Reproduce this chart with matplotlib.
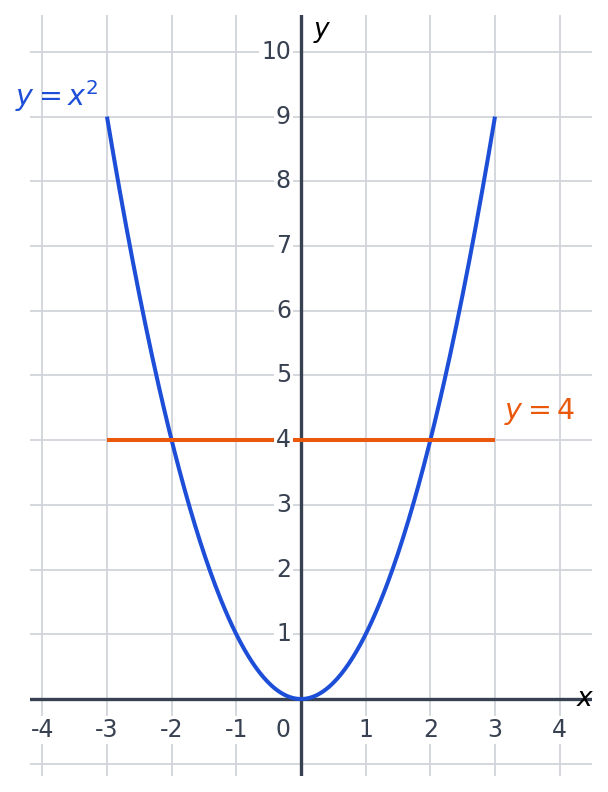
import numpy as np
import matplotlib
matplotlib.use("Agg")
import matplotlib.pyplot as plt
from matplotlib.transforms import offset_copy

# data
x_ticks = [-4, -3, -2, -1, 0, 1, 2, 3, 4]
y_ticks = [1, 2, 3, 4, 5, 6, 7, 8, 9, 10]
grid_y = [-1, 0, 1, 2, 3, 4, 5, 6, 7, 8, 9, 10]
curve_x = np.linspace(-3, 3, 301)
curve_y = curve_x ** 2
line_x = [-3, 3]
line_y = [4, 4]

BLUE = "#1d4ed8"
ORANGE = "#ea580c"
AXIS = "#374151"
GRID = "#d1d5db"

fig = plt.figure(figsize=(6.08, 7.92), dpi=100)
ax = fig.add_axes([30 / 608, 16 / 792, 562 / 608, 761 / 792])
ax.set_xlim(-4.19, 4.50)
ax.set_ylim(-1.19, 10.57)
ax.set_axis_off()

for gx in x_ticks:
    ax.axvline(gx, color=GRID, lw=1.3, zorder=1)
for gy in grid_y:
    ax.axhline(gy, color=GRID, lw=1.3, zorder=1)

ax.axhline(0, color=AXIS, lw=2.4, zorder=2)
ax.axvline(0, color=AXIS, lw=2.4, zorder=2)

ax.plot(curve_x, curve_y, color=BLUE, lw=2.9, zorder=3, solid_capstyle="butt")
ax.plot(line_x, line_y, color=ORANGE, lw=2.9, zorder=3, solid_capstyle="butt")

bb = dict(facecolor="white", edgecolor="none", pad=1.5)
fs = 17
for tx in x_ticks:
    if tx == 0:
        tr = offset_copy(ax.transData, fig=fig, x=-18, y=-31, units="dots")
    else:
        tr = offset_copy(ax.transData, fig=fig, x=0, y=-31, units="dots")
    ax.text(tx, 0, str(tx), transform=tr, ha="center", va="center",
            fontsize=fs, color=AXIS, bbox=bb, zorder=4)
for ty in y_ticks:
    tr = offset_copy(ax.transData, fig=fig, x=-10, y=0, units="dots")
    ax.text(0, ty, str(ty), transform=tr, ha="right", va="center",
            fontsize=fs, color=AXIS, bbox=bb, zorder=4)

ax.text(4.39, 0, "$x$", ha="center", va="center", fontsize=19, color="black", zorder=5)
ax.text(0.33, 10.31, "$y$", ha="center", va="center", fontsize=19, color="black", zorder=5)

ax.text(-3.77, 9.32, "$y = x^2$", ha="center", va="center", fontsize=20.5, color=BLUE, zorder=5)
ax.text(3.69, 4.45, "$y = 4$", ha="center", va="center", fontsize=20.5, color=ORANGE, zorder=5)

fig.savefig("out.png", dpi=100, facecolor="white")
